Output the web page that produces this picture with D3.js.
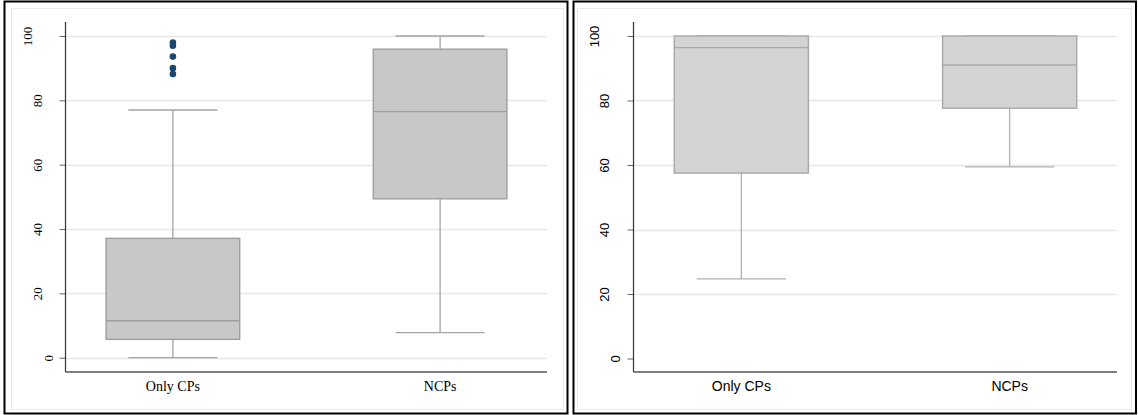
<!DOCTYPE html>
<html>
<head>
<meta charset="utf-8">
<script src="https://cdn.jsdelivr.net/npm/d3@7"></script>
<style>
  html, body { margin: 0; padding: 0; background: #ffffff; }
  svg { display: block; }
</style>
</head>
<body>
<svg id="chart" width="1138" height="415"></svg>
<script>
// ---------------- data ----------------
const categories = ["Only CPs", "NCPs"];
const yTicks = [0, 20, 40, 60, 80, 100];

// Left panel (serif)
const leftMin = [0, 7.8];
const leftQ1 = [5.7, 49.4];
const leftMedian = [11.5, 76.5];
const leftQ3 = [37.1, 95.9];
const leftMax = [77.0, 100];
const leftOutliers = [[98.0, 97.0, 93.6, 90.0, 88.2], []];

// Right panel (sans)
const rightMin = [24.7, 59.4];
const rightQ1 = [57.5, 77.6];
const rightMedian = [96.4, 91.0];
const rightQ3 = [100, 100];
const rightMax = [100, 100];
const rightOutliers = [[], []];

// ---------------- drawing ----------------
const svg = d3.select("#chart");

const panels = [
  {
    outer: [4.5, 1.5, 567.5, 413.5], inner: [11.5, 8.5, 563.5, 409.5],
    xRange: [66, 547], yRange: [357.7, 36], axisX: 65.5, axisTop: 22, axisBottom: 372,
    font: "'Liberation Serif', 'Times New Roman', serif", capH: 0.662,
    fill: "#c8c8c8", stroke: "#9e9e9e", whisker: "#a4a4a4",
    labelBase: 38, labelPer: 10.3, zeroGrid: true,
    mins: leftMin, q1: leftQ1, med: leftMedian, q3: leftQ3, maxs: leftMax, outl: leftOutliers
  },
  {
    outer: [573.5, 1.5, 1136, 413.5], inner: [577.5, 8.5, 1131.5, 409.5],
    xRange: [634, 1117], yRange: [358.5, 36], axisX: 633.5, axisTop: 22, axisBottom: 372,
    font: "'Liberation Sans', Arial, sans-serif", capH: 0.716,
    fill: "#d3d3d3", stroke: "#a8a8a8", whisker: "#b0b0b0",
    labelBase: 604.5, labelPer: 10.5, zeroGrid: false,
    mins: rightMin, q1: rightQ1, med: rightMedian, q3: rightQ3, maxs: rightMax, outl: rightOutliers
  }
];

panels.forEach(p => {
  const g = svg.append("g");

  // panel frames
  g.append("rect")
    .attr("x", p.outer[0]).attr("y", p.outer[1])
    .attr("width", p.outer[2] - p.outer[0]).attr("height", p.outer[3] - p.outer[1])
    .attr("fill", "#ffffff").attr("stroke", "#000000").attr("stroke-width", 2);
  g.append("rect")
    .attr("x", p.inner[0]).attr("y", p.inner[1])
    .attr("width", p.inner[2] - p.inner[0]).attr("height", p.inner[3] - p.inner[1])
    .attr("fill", "#ffffff").attr("stroke", "#e4ebf2").attr("stroke-width", 1);

  const x = d3.scalePoint().domain(categories).range(p.xRange).padding(0.4);
  const step = x.step();
  const y = d3.scaleLinear().domain([0, 100]).range(p.yRange);

  // gridlines
  g.append("g").selectAll("line")
    .data(yTicks.filter(t => p.zeroGrid || t !== 0))
    .join("line")
    .attr("x1", p.axisX).attr("x2", p.xRange[1])
    .attr("y1", d => Math.round(y(d)) + 0.5).attr("y2", d => Math.round(y(d)) + 0.5)
    .attr("stroke", "#e6e6e6").attr("stroke-width", 1.3);

  // y axis
  const yAxis = d3.axisLeft(y).tickValues(yTicks).tickSize(6).tickSizeOuter(0).tickFormat(d3.format("d"));
  const ya = g.append("g").attr("transform", `translate(${p.axisX},0)`).call(yAxis);
  ya.select(".domain").remove();
  ya.selectAll(".tick line").attr("stroke", "#666666").attr("stroke-width", 1);
  ya.selectAll(".tick text")
    .attr("x", null).attr("dy", null).attr("y", 0)
    .attr("text-anchor", "middle")
    .attr("font-family", p.font).attr("font-size", 13).attr("fill", "#000")
    .attr("transform", d => {
      const n = String(d).length;
      const cx = p.labelBase - p.labelPer * (n - 2);
      const b = cx + p.capH * 13 / 2;
      return `translate(${b - p.axisX},0) rotate(-90)`;
    });

  // axis lines
  g.append("line").attr("x1", p.axisX).attr("x2", p.axisX)
    .attr("y1", p.axisTop).attr("y2", p.axisBottom)
    .attr("stroke", "#333333").attr("stroke-width", 1.2);
  g.append("line").attr("x1", p.axisX).attr("x2", p.xRange[1])
    .attr("y1", p.axisBottom).attr("y2", p.axisBottom)
    .attr("stroke", "#555555").attr("stroke-width", 1.4);

  // x labels
  g.append("g").selectAll("text")
    .data(categories).join("text")
    .attr("x", d => x(d)).attr("y", 390.5)
    .attr("text-anchor", "middle")
    .attr("font-family", p.font).attr("font-size", 14).attr("fill", "#000")
    .text(d => d);

  // boxes
  const boxW = step * 0.5;
  const capW = step / 3;
  categories.forEach((c, i) => {
    const cx = x(c);
    const bg = g.append("g");
    // whiskers
    bg.append("line").attr("x1", cx).attr("x2", cx)
      .attr("y1", y(p.q3[i])).attr("y2", y(p.maxs[i]))
      .attr("stroke", p.whisker).attr("stroke-width", 1.3);
    bg.append("line").attr("x1", cx).attr("x2", cx)
      .attr("y1", y(p.q1[i])).attr("y2", y(p.mins[i]))
      .attr("stroke", p.whisker).attr("stroke-width", 1.3);
    bg.append("line").attr("x1", cx - capW / 2).attr("x2", cx + capW / 2)
      .attr("y1", y(p.maxs[i])).attr("y2", y(p.maxs[i]))
      .attr("stroke", p.whisker).attr("stroke-width", 1.3);
    bg.append("line").attr("x1", cx - capW / 2).attr("x2", cx + capW / 2)
      .attr("y1", y(p.mins[i])).attr("y2", y(p.mins[i]))
      .attr("stroke", p.whisker).attr("stroke-width", 1.3);
    // box
    bg.append("rect")
      .attr("x", cx - boxW / 2).attr("width", boxW)
      .attr("y", y(p.q3[i])).attr("height", y(p.q1[i]) - y(p.q3[i]))
      .attr("fill", p.fill).attr("stroke", p.stroke).attr("stroke-width", 1.4);
    bg.append("line").attr("x1", cx - boxW / 2).attr("x2", cx + boxW / 2)
      .attr("y1", y(p.med[i])).attr("y2", y(p.med[i]))
      .attr("stroke", p.stroke).attr("stroke-width", 1.4);
    // outliers
    bg.selectAll("circle").data(p.outl[i]).join("circle")
      .attr("cx", cx).attr("cy", d => y(d)).attr("r", 3.3)
      .attr("fill", "#1a476f");
  });
});
</script>
</body>
</html>
